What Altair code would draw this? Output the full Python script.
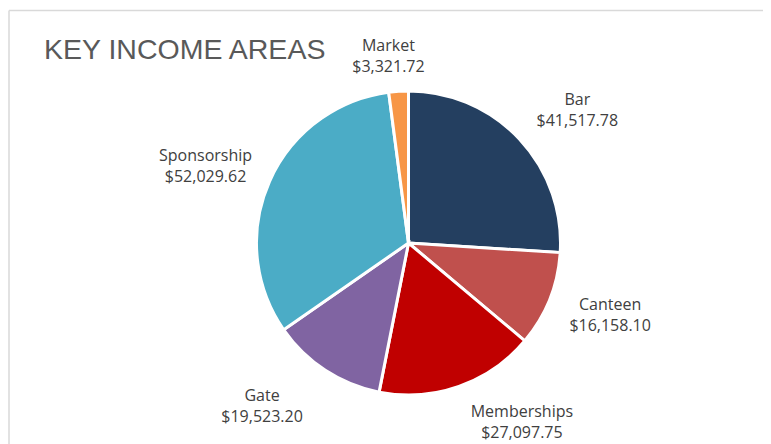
import math
import altair as alt
import pandas as pd

title_text = "KEY INCOME AREAS"
categories = ["Bar", "Canteen", "Memberships", "Gate", "Sponsorship", "Market"]
values = [41517.78, 16158.10, 27097.75, 19523.20, 52029.62, 3321.72]
colors = ["#243F60", "#C0504D", "#C00000", "#8064A2", "#4BACC6", "#F79646"]

# label nudges (style): (dx, dy) relative to a radius-200 anchor
nudges = {
    "Bar": (23, -6),
    "Canteen": (16, -12),
    "Memberships": (47, -20),
    "Gate": (-37, -14),
    "Sponsorship": (-20, -6),
    "Market": (-7, 3),
}

df = pd.DataFrame({"category": categories, "value": values, "order": list(range(len(categories)))})

theta_scale = alt.Scale(domain=[0, 1], range=[0, 2 * math.pi])

base = (
    alt.Chart(df)
    .transform_window(cum="sum(value)", sort=[{"field": "order"}])
    .transform_joinaggregate(total="sum(value)")
    .transform_calculate(
        start="(datum.cum - datum.value) / datum.total",
        end="datum.cum / datum.total",
        mid="(datum.cum - datum.value / 2) / datum.total",
        label="datum.category + '\\n' + format(datum.value, '$,.2f')",
    )
)

arcs = base.mark_arc(outerRadius=152, stroke="white", strokeWidth=3).encode(
    theta=alt.Theta("start:Q", scale=theta_scale),
    theta2="end:Q",
    color=alt.Color("category:N", scale=alt.Scale(domain=categories, range=colors), legend=None),
)

label_layers = []
for cat in categories:
    dx, dy = nudges[cat]
    label_layers.append(
        base.transform_filter(alt.datum.category == cat)
        .mark_text(
            radius=200, dx=dx, dy=dy, align="center", baseline="middle",
            font="Open Sans", fontSize=16, lineHeight=21, lineBreak="\n", color="#404040",
        )
        .encode(theta=alt.Theta("mid:Q", scale=theta_scale), text="label:N")
    )

one = pd.DataFrame({"t": [title_text]})
title = alt.Chart(one).mark_text(
    align="left", baseline="alphabetic", font="Liberation Sans", fontSize=28.5, color="#595959"
).encode(x=alt.value(-14), y=alt.value(1), text="t:N")

top_border = alt.Chart(one).mark_rule(color="#D9D9D9", strokeWidth=1.5).encode(
    x=alt.value(-49), x2=alt.value(705), y=alt.value(-47.5)
)
left_border = alt.Chart(one).mark_rule(color="#D9D9D9", strokeWidth=1.5).encode(
    x=alt.value(-49), y=alt.value(-47.5), y2=alt.value(386)
)

chart = (
    alt.layer(top_border, left_border, arcs, *label_layers, title)
    .properties(
        width=701, height=370,
        autosize=alt.AutoSizeParams(type="none"),
        padding={"left": 50, "top": 50, "right": 4, "bottom": 16},
    )
    .configure_view(stroke=None)
)

chart.save("out.html", embed_options={"renderer": "svg", "actions": False})
